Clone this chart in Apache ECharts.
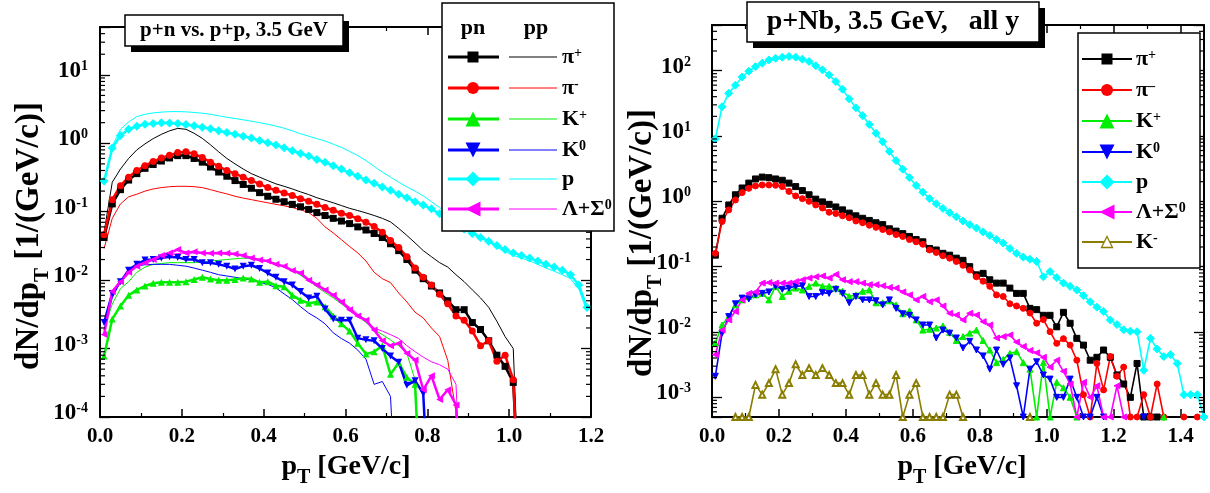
<!DOCTYPE html>
<html><head><meta charset="utf-8">
<script src="https://cdn.jsdelivr.net/npm/echarts@6/dist/echarts.min.js"></script>
<style>html,body{margin:0;padding:0;background:#fff}#c{width:1210px;height:493px}</style>
</head><body><div id="c"></div><script>
const FONT = '"Liberation Serif","Times New Roman",serif';

// bin centres (GeV/c)
const binCenters = [0.01,0.03,0.05,0.07,0.09,0.11,0.13,0.15,0.17,0.19,
 0.21,0.23,0.25,0.27,0.29,0.31,0.33,0.35,0.37,0.39,
 0.41,0.43,0.45,0.47,0.49,0.51,0.53,0.55,0.57,0.59,
 0.61,0.63,0.65,0.67,0.69,0.71,0.73,0.75,0.77,0.79,
 0.81,0.83,0.85,0.87,0.89,0.91,0.93,0.95,0.97,0.99,
 1.01,1.03,1.05,1.07,1.09,1.11,1.13,1.15,1.17,1.19,
 1.21,1.23,1.25,1.27,1.29,1.31,1.33,1.35,1.37,1.39,
 1.41,1.43,1.45,1.47];

// ---- left panel: p+n (pn) ----
const pnPiPlus = [0.042,0.13,0.21,0.29,0.36,0.43,0.49,0.55,0.61,0.66,
 0.66,0.60,0.53,0.45,0.38,0.33,0.285,0.25,0.22,0.19,
 0.168,0.152,0.14,0.128,0.118,0.108,0.097,0.088,0.08,0.073,
 0.067,0.06,0.054,0.048,0.042,0.034,0.027,0.02,0.014,0.0105,
 0.0082,0.0065,0.005,0.0037,0.0037,0.0024,0.0019,0.0013,0.0008,0.00055,
 0.00032,0.000001];
const pnPiMinus = [0.046,0.15,0.24,0.32,0.40,0.47,0.54,0.61,0.67,0.73,
 0.75,0.70,0.62,0.53,0.46,0.40,0.36,0.32,0.285,0.255,
 0.225,0.205,0.188,0.172,0.155,0.142,0.128,0.115,0.105,0.095,
 0.088,0.079,0.07,0.061,0.05,0.038,0.03,0.022,0.015,0.011,
 0.0085,0.0062,0.0045,0.003,0.0026,0.0018,0.0011,0.0013,0.00065,0.0008,
 0.00035,0.000001];
const pnKPlus = [0.00078,0.0027,0.0042,0.006,0.0072,0.0082,0.009,0.0093,0.0093,0.0093,
 0.0095,0.0102,0.011,0.0104,0.01,0.01,0.0102,0.0107,0.0104,0.0093,
 0.0095,0.0083,0.008,0.006,0.0051,0.0046,0.0048,0.0041,0.003,0.0023,
 0.0018,0.0012,0.00083,0.0009,0.0011,0.00042,0.00062,0.00038,0.0003,0.000001];
const pnK0 = [0.0024,0.0064,0.0095,0.014,0.017,0.0197,0.02,0.021,0.022,0.0215,
 0.02,0.02,0.018,0.018,0.017,0.016,0.0145,0.016,0.0165,0.0148,
 0.0127,0.011,0.0095,0.0085,0.0068,0.0055,0.0058,0.0038,0.0027,0.0026,
 0.0026,0.00142,0.00134,0.0013,0.001,0.00078,0.00063,0.00029,0.00034,0.00022,
 0.000001];
const pnProton = [0.28,0.85,1.3,1.6,1.78,1.9,1.95,2.0,1.98,1.95,
 1.88,1.8,1.72,1.63,1.53,1.44,1.35,1.27,1.19,1.1,
 1.02,0.94,0.86,0.78,0.71,0.65,0.58,0.53,0.47,0.42,
 0.37,0.33,0.29,0.26,0.23,0.205,0.18,0.16,0.14,0.125,
 0.11,0.093,0.078,0.066,0.056,0.048,0.042,0.037,0.032,0.028,
 0.025,0.023,0.021,0.019,0.017,0.0155,0.014,0.012,0.0085,0.004];
const pnLambda = [0.0016,0.0068,0.0095,0.013,0.016,0.018,0.02,0.023,0.025,0.028,
 0.025,0.026,0.025,0.0247,0.025,0.0247,0.024,0.023,0.021,0.0197,
 0.019,0.017,0.016,0.0138,0.0127,0.01,0.0085,0.0072,0.006,0.0048,
 0.0037,0.003,0.0026,0.00187,0.0013,0.0011,0.0012,0.00085,0.00068,0.00025,
 0.0004,0.00018,0.00025,0.00015,0.000001];

// ---- left panel: p+p (pp) ----
const ppPiPlus = [0.05,0.27,0.42,0.6,0.8,0.98,1.17,1.35,1.52,1.65,
 1.6,1.4,1.18,0.95,0.75,0.6,0.5,0.42,0.36,0.32,
 0.285,0.255,0.235,0.215,0.195,0.178,0.16,0.147,0.135,0.123,
 0.112,0.104,0.096,0.088,0.08,0.071,0.057,0.045,0.035,0.027,
 0.022,0.018,0.0155,0.012,0.0095,0.0072,0.0055,0.004,0.0025,0.0015,
 0.001,0.000001];
const ppPiMinus = [0.029,0.08,0.13,0.165,0.18,0.2,0.215,0.225,0.232,0.235,
 0.235,0.232,0.225,0.21,0.195,0.182,0.168,0.158,0.15,0.142,
 0.135,0.128,0.122,0.115,0.107,0.097,0.08,0.06,0.049,0.039,
 0.031,0.025,0.019,0.013,0.0105,0.0092,0.0065,0.0048,0.0034,0.0028,
 0.002,0.0015,0.00067,0.00012,0.000001];
const ppKPlus = [0.0019,0.0045,0.0075,0.0095,0.013,0.0155,0.017,0.0175,0.018,0.018,
 0.018,0.018,0.0185,0.019,0.0195,0.02,0.0205,0.021,0.0205,0.02,
 0.019,0.0175,0.0155,0.014,0.0118,0.0098,0.008,0.0066,0.0055,0.0045,
 0.0037,0.003,0.0024,0.0019,0.0016,0.00134,0.0011,0.00085,0.00035,0.000001];
const ppK0 = [0.0019,0.0055,0.0095,0.013,0.016,0.0168,0.017,0.017,0.017,0.0165,
 0.016,0.015,0.014,0.013,0.012,0.0115,0.011,0.0105,0.01,0.0093,
 0.0087,0.0077,0.0063,0.0052,0.0041,0.0033,0.0028,0.0023,0.0017,0.0014,
 0.0012,0.00095,0.0007,0.0003,0.00033,0.0002,0.000001];
const ppProton = [0.25,0.9,1.6,2.05,2.45,2.65,2.78,2.85,2.9,2.9,
 2.88,2.82,2.75,2.65,2.52,2.4,2.3,2.2,2.1,2.0,
 1.9,1.78,1.66,1.52,1.38,1.27,1.17,1.08,0.97,0.87,
 0.76,0.66,0.56,0.46,0.38,0.32,0.27,0.23,0.2,0.17,
 0.14,0.115,0.095,0.078,0.063,0.052,0.043,0.036,0.03,0.026,
 0.023,0.021,0.019,0.017,0.015,0.0135,0.012,0.0105,0.0075,0.0035];
const ppLambda = [0.0017,0.0065,0.01,0.0135,0.016,0.0185,0.0205,0.022,0.0235,0.0245,
 0.025,0.025,0.025,0.0248,0.0245,0.024,0.0235,0.0225,0.0215,0.02,
 0.019,0.0175,0.0158,0.014,0.0122,0.0104,0.0088,0.0074,0.0061,0.005,
 0.004,0.0032,0.0026,0.002,0.0018,0.0016,0.0014,0.0011,0.0009,0.00075,
 0.00064,0.00058,0.0005,0.0003,0.000001];

// ---- right panel: p+Nb ----
const nbPiPlus = [0.15,0.55,0.88,1.26,1.6,1.9,2.2,2.35,2.3,2.2,
 2.1,1.9,1.68,1.46,1.26,1.08,0.98,0.9,0.82,0.74,
 0.66,0.6,0.55,0.51,0.47,0.44,0.38,0.35,0.32,0.29,
 0.26,0.24,0.19,0.18,0.16,0.15,0.135,0.125,0.1,0.075,
 0.079,0.063,0.056,0.056,0.047,0.039,0.039,0.023,0.022,0.018,
 0.018,0.012,0.02,0.0136,0.008,0.0063,0.0037,0.0041,0.0053,0.0041,
 0.0022,0.0016,0.001,0.0033,0.0005,0.0005,0.0005];
const nbPiMinus = [0.16,0.49,0.74,1.05,1.36,1.58,1.72,1.78,1.78,1.76,
 1.68,1.42,1.21,1.1,1.0,0.88,0.79,0.68,0.65,0.6,
 0.56,0.5,0.47,0.43,0.4,0.37,0.34,0.31,0.29,0.26,
 0.24,0.22,0.18,0.165,0.147,0.135,0.12,0.105,0.089,0.07,
 0.06,0.05,0.037,0.035,0.027,0.025,0.023,0.0195,0.0136,0.0155,
 0.0101,0.0067,0.0079,0.0063,0.0037,0.0011,0.0005,0.0033,0.0013,0.0042,
 0.0021,0.0029,0.0005,0.0005,0.0011,0.0005,0.0016,0.0005,null,null,
 0.0005,null,0.0005];
const nbKPlus = [0.0068,0.0128,0.0172,0.026,0.031,0.035,0.037,0.039,0.031,0.05,
 0.035,0.042,0.047,0.044,0.05,0.056,0.05,0.05,0.047,0.042,
 0.035,0.037,0.042,0.044,0.028,0.028,0.03,0.026,0.019,0.021,
 0.0153,0.0107,0.011,0.0115,0.0124,0.0099,0.0074,0.0085,0.0096,0.0107,
 0.0074,0.0053,0.0034,0.0038,0.0047,0.005,0.0034,0.0027,0.0005,0.0034,
 0.0005,0.0017,0.0014,0.001,0.0005,null,null,null,null,null,
 null,null,null,null,null,null,null,0.0005];
const nbK0 = [0.0021,0.0096,0.0172,0.027,0.033,0.032,0.037,0.039,0.041,0.05,
 0.045,0.047,0.05,0.051,0.035,0.035,0.04,0.039,0.045,0.039,
 0.028,0.035,0.031,0.031,0.03,0.026,0.031,0.023,0.019,0.018,
 0.0153,0.0128,0.0128,0.0081,0.0107,0.0096,0.0081,0.0057,0.0072,0.0053,
 0.0043,0.0027,0.0053,0.0032,0.004,0.0015,0.0005,0.0027,0.0035,0.0022,
 0.0019,0.001,0.001,0.0019,0.001,0.0005,0.0005,0.001,0.0005,null,
 null,null,null,null,0.0005];
const nbProton = [9,28,45,60,80,98,115,130,146,155,
 161,165,161,150,138,119,103,86,68,52,
 37,27,20.5,15,11,8.2,5.8,4.2,3.1,2.3,
 1.75,1.38,1.1,0.92,0.78,0.67,0.58,0.5,0.44,0.39,
 0.34,0.3,0.26,0.23,0.19,0.16,0.14,0.13,0.12,0.07,
 0.084,0.068,0.056,0.05,0.044,0.036,0.029,0.024,0.0206,0.0153,
 0.013,0.0108,0.0103,0.0101,0.0026,0.008,0.0055,0.0042,0.0045,0.0033,
 0.0011,0.0011,0.0011,0.0005];
const nbLambda = [0.0045,0.0107,0.0153,0.0206,0.031,0.039,0.041,0.056,0.057,0.056,
 0.056,0.056,0.059,0.063,0.067,0.07,0.072,0.067,0.076,0.063,
 0.059,0.059,0.056,0.053,0.053,0.051,0.048,0.047,0.041,0.037,
 0.031,0.035,0.029,0.031,0.025,0.0193,0.0182,0.0153,0.0193,0.0182,
 0.0144,0.0128,0.0081,0.0085,0.009,0.007,0.006,0.0052,0.0048,0.0041,
 0.0029,0.0037,0.0025,0.0016,0.0005,0.0017,0.001,0.0015,0.0005,0.0005,
 0.0015,0.0005];
const nbKMinus = [null,null,null,0.0005,0.0005,0.0005,0.00155,0.0011,0.00165,0.0027,
 0.0011,0.00165,0.0032,0.0022,0.0028,0.0022,0.0028,0.0022,0.00165,0.00165,
 0.0011,0.0022,0.0022,0.0011,0.00165,0.0011,0.0011,0.0022,0.0005,0.0011,
 0.00165,0.0005,0.0005,0.0005,0.0005,0.0011,0.0011,0.0005,null,null,
 null,null,null,null,null,null,null,0.0005];

// axis tick step
const xTickStep = 0.2;

// ---- styling tables ----
const SYM = {rect:['rect',0], circle:['circle',0], up:['triangle',0], down:['triangle',180],
  left:['triangle',90], diamond:['diamond',0], emptyUp:['emptyTriangle',0]};
const leftSpecies = [
  {lab:'{m|π}{s|+}', color:'#000000', sym:'rect', pn:pnPiPlus, pp:ppPiPlus},
  {lab:'{m|π}{s|-}', color:'#ff0000', sym:'circle', pn:pnPiMinus, pp:ppPiMinus},
  {lab:'{m|K}{s|+}', color:'#00ee00', sym:'up', pn:pnKPlus, pp:ppKPlus},
  {lab:'{m|K}{s|0}', color:'#0000ff', sym:'down', pn:pnK0, pp:ppK0},
  {lab:'{m|p}', color:'#00ffff', sym:'diamond', pn:pnProton, pp:ppProton},
  {lab:'{m|Λ+Σ}{s|0}', color:'#ff00ff', sym:'left', pn:pnLambda, pp:ppLambda}
];
const rightSpecies = [
  {lab:'{m|π}{s|+}', color:'#000000', sym:'rect', v:nbPiPlus},
  {lab:'{m|π}{s|–}', color:'#ff0000', sym:'circle', v:nbPiMinus},
  {lab:'{m|K}{s|+}', color:'#00ee00', sym:'up', v:nbKPlus},
  {lab:'{m|K}{s|0}', color:'#0000ff', sym:'down', v:nbK0},
  {lab:'{m|p}', color:'#00ffff', sym:'diamond', v:nbProton},
  {lab:'{m|Λ+Σ}{s|0}', color:'#ff00ff', sym:'left', v:nbLambda},
  {lab:'{m|K}{s|-}', color:'#8a7d00', sym:'emptyUp', v:nbKMinus}
];

function pairs(vals){ return vals.map((v,i)=>[binCenters[i], v==null?'-':v]); }

const LMIN=1e-4, LMAX=50, RMIN=5e-4, RMAX=500, LXMAX=1.2, RXMAX=1.47;

const series = [];
leftSpecies.forEach(s=>{
  series.push({type:'line', xAxisIndex:0, yAxisIndex:0, data:pairs(s.pp), showSymbol:false, symbol:'none',
    lineStyle:{color:s.color, width:1}, clip:true, z:2, animation:false, silent:true});
});
leftSpecies.forEach(s=>{
  const [sy, rot] = SYM[s.sym];
  series.push({type:'line', xAxisIndex:0, yAxisIndex:0, data:pairs(s.pn), symbol:sy, symbolRotate:rot,
    symbolSize: s.sym==='diamond'?9:7, showAllSymbol:true,
    lineStyle:{color:s.color, width:2.5}, itemStyle:{color:s.color}, clip:true, z:3, animation:false, silent:true});
});
rightSpecies.forEach(s=>{
  const [sy, rot] = SYM[s.sym];
  series.push({type:'line', xAxisIndex:2, yAxisIndex:2, data:pairs(s.v), symbol:sy, symbolRotate:rot,
    symbolSize: s.sym==='diamond'?8:6, showAllSymbol:true,
    lineStyle:{color:s.color, width:1.6}, itemStyle:{color:s.color, borderColor:s.color}, clip:true, z:3, animation:false, silent:true});
});

// minor log ticks (2..9 x 10^n), drawn through the axes' own scales
function minorVals(lo, hi){
  const out=[];
  for(let e=-6;e<4;e++){ for(let k=2;k<10;k++){ const v=k*Math.pow(10,e); if(v>lo && v<hi) out.push(v);} }
  return out;
}
function minorTickSeries(xi, yi, lo, hi, xmax){
  return {type:'custom', xAxisIndex:xi, yAxisIndex:yi, silent:true, animation:false, clip:false, z:5,
    data: minorVals(lo, hi).map(v=>[0, v]), encode:{x:0, y:1},
    renderItem:(params, api)=>{
      const v = api.value(1);
      const a = api.coord([0, v]), b = api.coord([xmax, v]);
      const st = {stroke:'#000', lineWidth:1.2};
      return {type:'group', children:[
        {type:'line', shape:{x1:a[0], y1:a[1], x2:a[0]+5, y2:a[1]}, style:st},
        {type:'line', shape:{x1:b[0]-5, y1:b[1], x2:b[0], y2:b[1]}, style:st}]};
    }};
}
series.push(minorTickSeries(0, 0, LMIN, LMAX, LXMAX));
series.push(minorTickSeries(2, 2, RMIN, RMAX, RXMAX));

// ---- axes ----
const black = '#000';
function xAx(gi, max, pos){
  return {gridIndex:gi, type:'value', min:0, max:max, interval:xTickStep, position:pos,
    axisLine:{show:true, onZero:false, lineStyle:{color:black, width:2}},
    axisTick:{show:true, inside:true, length:8, lineStyle:{color:black, width:1.5}},
    minorTick:{show:true, splitNumber:2, length:4, lineStyle:{color:black, width:1.2}},
    splitLine:{show:false}, minorSplitLine:{show:false},
    axisLabel:{show:pos==='bottom', margin:9, color:black, fontFamily:FONT, fontWeight:'bold', fontSize:21,
      formatter:v=>{const k=v/xTickStep; return Math.abs(k-Math.round(k))<1e-6 ? v.toFixed(1) : '';}}};
}
function yAx(gi, min, max, pos, labels, margin){
  return {gridIndex:gi, type:'log', logBase:10, min:min, max:max, position:pos, splitNumber:6,
    axisLine:{show:true, onZero:false, lineStyle:{color:black, width:2}},
    axisTick:{show:true, inside:true, length:10, lineStyle:{color:black, width:1.3}},
    splitLine:{show:false},
    axisLabel:{show:labels, margin:margin||8, color:black, padding:[0,0,8,0],
      formatter:v=>{const e=Math.log10(v), r=Math.round(e); return Math.abs(e-r)<1e-6 ? '{b|10}{s|'+r+'}' : '';},
      rich:{b:{fontFamily:FONT, fontWeight:'bold', fontSize:23, lineHeight:23, verticalAlign:'bottom', color:black},
            s:{fontFamily:FONT, fontWeight:'bold', fontSize:14, lineHeight:14, verticalAlign:'top', padding:[0,0,10,0], color:black}}}};
}

const xAxis = [xAx(0,LXMAX,'bottom'), xAx(0,LXMAX,'top'), xAx(1,RXMAX,'bottom'), xAx(1,RXMAX,'top')];
const yAxis = [yAx(0,LMIN,LMAX,'left',true,12), yAx(0,LMIN,LMAX,'right',false),
  yAx(1,RMIN,RMAX,'left',true,21), yAx(1,RMIN,RMAX,'right',false)];

// ---- graphics: titles, legends, axis titles ----
const G = [];
function supRich(m, s){ return {
  m:{fontFamily:FONT, fontWeight:'bold', fontSize:m, lineHeight:m, verticalAlign:'bottom', fill:black},
  s:{fontFamily:FONT, fontWeight:'bold', fontSize:s, lineHeight:s, verticalAlign:'top', padding:[0,0,Math.round(m*0.45),0], fill:black}}; }
function subRich(m, s){ return {
  m:{fontFamily:FONT, fontWeight:'bold', fontSize:m, lineHeight:m, verticalAlign:'top', fill:black},
  t:{fontFamily:FONT, fontWeight:'bold', fontSize:s, lineHeight:Math.round(m*1.25), verticalAlign:'bottom', fill:black}}; }
function txt(x, y, text, size, align, rich, rot){
  G.push({type:'text', x:x, y:y, rotation:rot||0, z:30, silent:true,
    style:{text:text, fill:black, fontFamily:FONT, fontWeight:'bold', fontSize:size, align:align||'center', verticalAlign:'middle', rich:rich}});
}
function box(x, y, w, h, shadow){
  if(shadow) G.push({type:'rect', z:20, silent:true, shape:{x:x+shadow, y:y+shadow, width:w, height:h}, style:{fill:black}});
  G.push({type:'rect', z:21, silent:true, shape:{x:x, y:y, width:w, height:h}, style:{fill:'#fff', stroke:black, lineWidth:1.5}});
}
function marker(kind, cx, cy, s, color){
  const h=s/2; let pts=null;
  if(kind==='rect'){ G.push({type:'rect', z:32, silent:true, shape:{x:cx-h, y:cy-h, width:s, height:s}, style:{fill:color}}); return; }
  if(kind==='circle'){ G.push({type:'circle', z:32, silent:true, shape:{cx:cx, cy:cy, r:h}, style:{fill:color}}); return; }
  if(kind==='up' || kind==='emptyUp') pts=[[cx,cy-h],[cx+h,cy+h],[cx-h,cy+h]];
  if(kind==='down') pts=[[cx-h,cy-h],[cx+h,cy-h],[cx,cy+h]];
  if(kind==='left') pts=[[cx-h,cy],[cx+h,cy-h],[cx+h,cy+h]];
  if(kind==='diamond') pts=[[cx,cy-h],[cx+h,cy],[cx,cy+h],[cx-h,cy]];
  G.push({type:'polygon', z:32, silent:true, shape:{points:pts},
    style: kind==='emptyUp' ? {fill:'#fff', stroke:color, lineWidth:1.3} : {fill:color}});
}
function seg(x1, x2, y, color, w){
  G.push({type:'line', z:31, silent:true, shape:{x1:x1, y1:y, x2:x2, y2:y}, style:{stroke:color, lineWidth:w}});
}

// titles
box(125, 15, 218, 31, 6);
txt(234, 31, 'p+n vs. p+p, 3.5 GeV', 21);
box(747, 2, 292, 40, 6);
txt(893, 22, 'p+Nb, 3.5 GeV,   all y', 28);

// left legend
box(442, 3, 172, 228, 0);
txt(473, 28, 'pn', 22);
txt(536, 28, 'pp', 22);
const legRowsL = [57, 88, 119, 150, 179, 209];
leftSpecies.forEach((s,i)=>{
  const y = legRowsL[i];
  seg(448, 499, y, s.color, 3);
  marker(s.sym, 473, y, s.sym==='rect'?11:(s.sym==='circle'?12:15), s.color);
  seg(509, 557, y, s.color, 1);
  txt(562, y, s.lab, 22, 'left', supRich(22, 14));
});

// right legend
box(1078, 33, 122, 235, 0);
const legRowsR = [59, 90, 121, 152, 182, 212, 242];
rightSpecies.forEach((s,i)=>{
  const y = legRowsR[i];
  seg(1082, 1132, y, s.color, 2);
  marker(s.sym, 1107, y, s.sym==='rect'?11:(s.sym==='circle'?12:(s.sym==='emptyUp'?11:15)), s.color);
  txt(1136, y, s.lab, 22, 'left', supRich(22, 14));
});

// axis titles (subscript T)
const yTitle = '{m|dN/dp}{t|T}{m| [1/(GeV/c)]}';
const xTitle = '{m|p}{t|T}{m| [GeV/c]}';
txt(33, 236, yTitle, 33, 'center', subRich(33, 21), Math.PI/2);
txt(646, 243, yTitle, 33, 'center', subRich(33, 21), Math.PI/2);
txt(346, 470, xTitle, 28, 'center', subRich(28, 20));
txt(962, 470, xTitle, 28, 'center', subRich(28, 20));

const chart = echarts.init(document.getElementById('c'), null, {renderer:'canvas', width:1210, height:493});
chart.setOption({
  backgroundColor:'#fff',
  animation:false,
  grid:[{left:100, top:27, width:491, height:390, containLabel:false, outerBoundsMode:'none'},
        {left:712, top:25, width:492, height:392, containLabel:false, outerBoundsMode:'none'}],
  xAxis: xAxis,
  yAxis: yAxis,
  series: series,
  graphic: {elements: G}
});
</script></body></html>
